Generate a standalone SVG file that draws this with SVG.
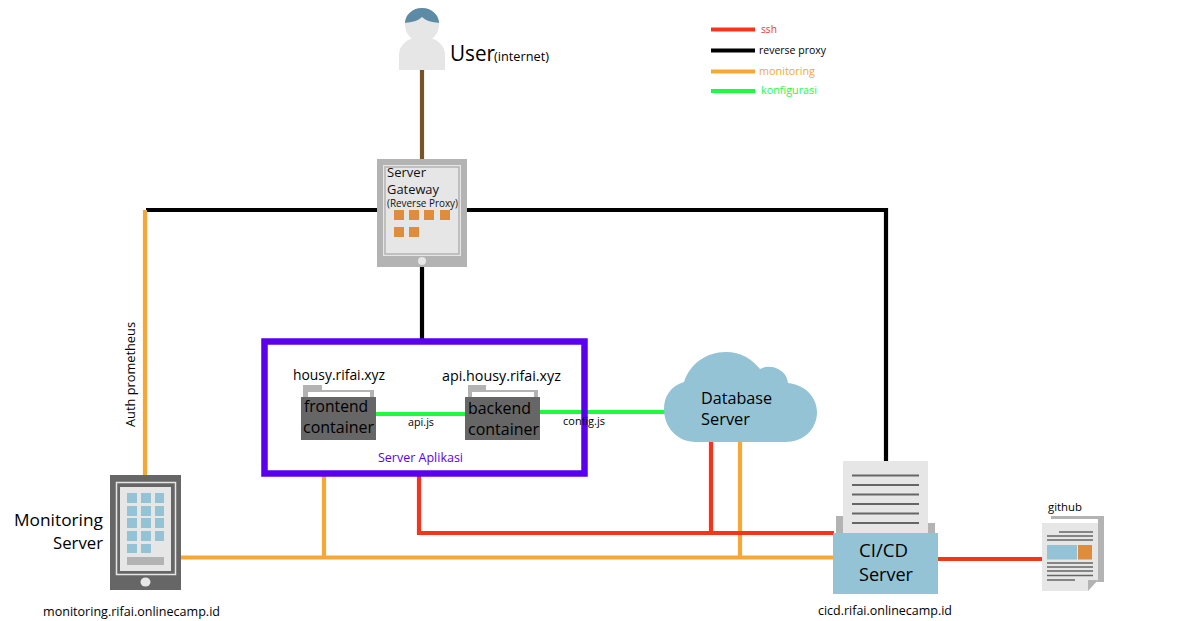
<svg xmlns="http://www.w3.org/2000/svg" width="1199" height="621" viewBox="0 0 1199 621">
<style>
text{font-family:"Open Sans","Noto Sans","Liberation Sans",sans-serif;fill:#111}
.c{fill:none;stroke-width:4.2}
.r{stroke:#f5341a}.k{stroke:#000}.o{stroke:#f7a733}.g{stroke:#1dfb3e}
.lt{fill:#e6e6e6}.gr{fill:#b3b3b3}.dk{fill:#666}.bl{fill:#93c3d5}.or{fill:#de8d3c}
.ln{stroke:#666;stroke-width:2;fill:none}
.thin{stroke:#666;stroke-width:1.500;fill:none}
</style>
<rect width="1199" height="621" fill="#fff"/>
<g id="connectors">
<path class="c" stroke="#7a5228" d="M422 70V160"/>
<path class="c k" d="M146 210H378M466 210H886V462M422 265V339"/>
<path class="c o" d="M145 210V475M177 557.500H834M324 476V557.500M740 441V557.500"/>
<path class="c r" d="M419 476V533H834M711 441V535M938 559H1044"/>
<path class="c g" d="M376 414H467M540 412H666"/>
</g>
<g id="user">
<path class="lt" d="M399 70V55C399 46 406 40 413 38H431C438 40 445 46 445 55V70Z"/>
<circle cx="422" cy="25" r="17" class="lt"/>
<path fill="#5d8aa5" d="M405 23A17 15 0 0 1 439 23C432 22 426 21 422 17C418 21 412 22 405 23Z"/>
<text x="450" y="61" font-size="22" style="fill:#000" textLength="45" lengthAdjust="spacingAndGlyphs">User</text>
<text x="494" y="61" font-size="12" style="fill:#000" textLength="55" lengthAdjust="spacingAndGlyphs">(internet)</text>
</g>
<g id="gateway">
<rect x="377" y="159" width="90" height="108" class="gr"/>
<rect x="383" y="165" width="78" height="91" class="lt"/>
<rect x="385" y="167" width="74" height="87" fill="none" stroke="#b3b3b3" stroke-width="1.500"/>
<g class="or"><rect x="394" y="210" width="10" height="10"/><rect x="409" y="210" width="10" height="10"/><rect x="424" y="210" width="10" height="10"/><rect x="440" y="210" width="10" height="10"/><rect x="394" y="227" width="10" height="10"/><rect x="409" y="227" width="10" height="10"/></g>
<circle cx="422" cy="261" r="4" class="lt"/>
<text x="387" y="177" font-size="12.500" textLength="39" lengthAdjust="spacingAndGlyphs">Server</text>
<text x="387" y="194" font-size="12.500" textLength="52" lengthAdjust="spacingAndGlyphs">Gateway</text>
<text x="387" y="207" font-size="10" textLength="71" lengthAdjust="spacingAndGlyphs">(Reverse Proxy)</text>
</g>
<g id="server-aplikasi">
<rect x="264.500" y="341.500" width="320" height="132" fill="none" stroke="#5a00ee" stroke-width="6.500"/>
<text x="378" y="462" font-size="12" style="fill:#5a00ee" textLength="85" lengthAdjust="spacingAndGlyphs">Server Aplikasi</text>
</g>
<g id="frontend">
<path class="gr" d="M303 397V385H322V390H374V397Z"/>
<rect x="308" y="392" width="62" height="5" fill="#fff"/>
<rect x="301" y="397" width="75" height="43" class="dk"/>
<text x="293" y="380" font-size="14" style="fill:#000" textLength="92" lengthAdjust="spacingAndGlyphs">housy.rifai.xyz</text>
<text x="304" y="412" font-size="16" style="fill:#000" textLength="64" lengthAdjust="spacingAndGlyphs">frontend</text>
<text x="303" y="433" font-size="16" style="fill:#000" textLength="71" lengthAdjust="spacingAndGlyphs">container</text>
</g>
<g id="backend">
<path class="gr" d="M468 397V385H486V390H538V397Z"/>
<rect x="472" y="392" width="62" height="5" fill="#fff"/>
<rect x="465" y="397" width="75" height="43" class="dk"/>
<text x="442" y="381" font-size="14" style="fill:#000" textLength="119" lengthAdjust="spacingAndGlyphs">api.housy.rifai.xyz</text>
<text x="468" y="414" font-size="16" style="fill:#000" textLength="63" lengthAdjust="spacingAndGlyphs">backend</text>
<text x="468" y="435" font-size="16" style="fill:#000" textLength="71" lengthAdjust="spacingAndGlyphs">container</text>
</g>
<text x="408" y="426" font-size="10" style="fill:#000" textLength="26" lengthAdjust="spacingAndGlyphs">api.js</text>
<text x="563" y="425" font-size="10" style="fill:#000" textLength="42" lengthAdjust="spacingAndGlyphs">config.js</text>
<g id="database">
<path class="bl" d="M696 442C677 442 664 427 664 409C664 396 671 386 684 382C690 364 706 352 726 352C741 352 752 359 760 369C766 366 772 366 778 369C784 372 787 376 788 383C806 385 817 398 817 412C817 429 804 442 785 442Z"/>
<text x="701" y="404" font-size="16" style="fill:#000" textLength="71" lengthAdjust="spacingAndGlyphs">Database</text>
<text x="701" y="425" font-size="16" style="fill:#000" textLength="49" lengthAdjust="spacingAndGlyphs">Server</text>
</g>
<g id="monitoring">
<rect x="110" y="475" width="71" height="115" class="dk"/>
<rect x="116.500" y="482.500" width="59" height="92" fill="none" stroke="#e6e6e6" stroke-width="1.500"/>
<rect x="120" y="487" width="51" height="84" class="lt"/>
<g class="bl">
<rect x="127" y="493" width="10" height="10"/><rect x="141" y="493" width="10" height="10"/><rect x="155" y="493" width="9" height="10"/>
<rect x="127" y="506" width="10" height="10"/><rect x="141" y="506" width="10" height="10"/><rect x="155" y="506" width="9" height="10"/>
<rect x="127" y="518" width="10" height="10"/><rect x="141" y="518" width="10" height="10"/><rect x="155" y="518" width="9" height="10"/>
<rect x="127" y="531" width="10" height="10"/><rect x="141" y="531" width="10" height="10"/><rect x="155" y="531" width="9" height="10"/>
<rect x="127" y="544" width="10" height="9"/><rect x="141" y="544" width="10" height="9"/>
</g>
<rect x="127" y="557" width="37" height="8" class="gr"/>
<ellipse cx="145.500" cy="582" rx="5" ry="4.500" class="lt"/>
<text x="103" y="526" font-size="17" style="fill:#000" text-anchor="end" textLength="89" lengthAdjust="spacingAndGlyphs">Monitoring</text>
<text x="103" y="549" font-size="17" style="fill:#000" text-anchor="end" textLength="50" lengthAdjust="spacingAndGlyphs">Server</text>
<text x="43" y="616" font-size="12" style="fill:#000" textLength="177" lengthAdjust="spacingAndGlyphs">monitoring.rifai.onlinecamp.id</text>
</g>
<text transform="translate(135 427) rotate(-90)" font-size="12" style="fill:#000" textLength="105" lengthAdjust="spacingAndGlyphs">Auth prometheus</text>
<g id="cicd">
<rect x="836" y="516" width="8" height="18" class="gr"/>
<rect x="927" y="523" width="8" height="11" class="gr"/>
<rect x="843" y="461" width="85" height="73" class="lt"/>
<path class="ln" d="M852 475.500H919M852 485H919M852 494.500H919M852 504H919M852 513.500H919M852 523H919"/>
<rect x="833" y="533" width="105" height="61" class="bl"/>
<text x="859" y="557" font-size="18" style="fill:#000" textLength="49" lengthAdjust="spacingAndGlyphs">CI/CD</text>
<text x="859" y="581" font-size="18" style="fill:#000" textLength="54" lengthAdjust="spacingAndGlyphs">Server</text>
<text x="818" y="615" font-size="12" style="fill:#000" textLength="134" lengthAdjust="spacingAndGlyphs">cicd.rifai.onlinecamp.id</text>
</g>
<g id="github">
<rect x="1051" y="516" width="53" height="66" class="gr"/>
<rect x="1048" y="519" width="50" height="4" fill="#fff"/>
<path class="lt" d="M1042 523H1098V580L1088 591H1042Z"/>
<path class="gr" d="M1088 591V580H1098Z"/>
<path class="thin" d="M1059 532H1093M1047 536H1093M1047 540H1093M1047 563H1093M1047 567H1093M1047 571H1093M1047 575.500H1093M1047 580H1075"/>
<rect x="1047" y="545" width="30" height="14.500" class="bl"/>
<rect x="1078" y="545" width="14" height="14.500" class="or"/>
<text x="1048" y="511" font-size="11" style="fill:#000" textLength="34" lengthAdjust="spacingAndGlyphs">github</text>
</g>
<g id="legend">
<path class="c r" d="M711 29.500H755"/>
<path class="c k" d="M711 50.500H755"/>
<path class="c o" d="M711 71.500H755"/>
<path class="c g" d="M711 91H755"/>
<text x="761" y="33" font-size="10.500" style="fill:#f5341a" textLength="16" lengthAdjust="spacingAndGlyphs">ssh</text>
<text x="759" y="54" font-size="10.500" style="fill:#000" textLength="67" lengthAdjust="spacingAndGlyphs">reverse proxy</text>
<text x="759" y="75" font-size="10.500" style="fill:#f7a733" textLength="56" lengthAdjust="spacingAndGlyphs">monitoring</text>
<text x="761" y="94" font-size="10.500" style="fill:#1dfb3e" textLength="56" lengthAdjust="spacingAndGlyphs">konfigurasi</text>
</g>
</svg>
